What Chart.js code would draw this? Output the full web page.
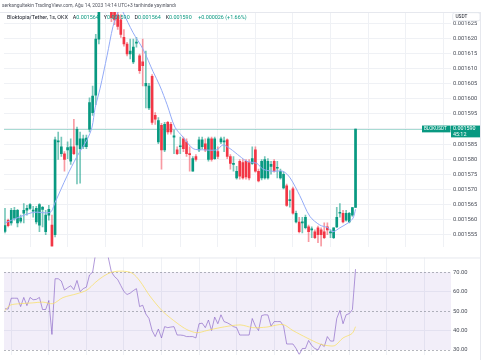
<!DOCTYPE html>
<html><head><meta charset="utf-8">
<script src="https://cdn.jsdelivr.net/npm/chart.js@4.4.0/dist/chart.umd.min.js"></script>
<style>
html,body{margin:0;padding:0;background:#fff;width:485px;height:360px;overflow:hidden;font-family:Roboto,"Liberation Sans",sans-serif;}
#wrap{position:relative;width:485px;height:360px;}
#main{position:absolute;left:0;top:0;}
#rsi{position:absolute;left:0;top:252px;}
.txt{position:absolute;white-space:nowrap;transform-origin:0 0;}
#hdr{left:2px;top:3px;font-size:10px;transform:scale(0.49);color:#50535e;}
#leg{left:7px;top:14px;font-size:10px;transform:scale(0.54);color:#131722;}
#leg .g{color:#089981;}
#leg .k{margin-left:9px;}
#leg .c{margin-left:12px;color:#089981;}
#frameR{position:absolute;left:480px;top:12px;width:1px;height:348px;background:#e6e8ee;}
</style></head><body>
<div id="wrap">
<canvas id="main" width="485" height="252" style="width:485px;height:252px"></canvas>
<canvas id="rsi" width="485" height="108" style="width:485px;height:108px"></canvas>
<div id="frameR"></div>
<div id="hdr" class="txt"></div>
<div id="leg" class="txt"></div>
</div>
<script>
// ---------- data ----------
const headerText = 'serkangultekin TradingView.com, Ağu 14, 2023 14:14 UTC+3 tarihinde yayınlandı';
const symbolText = 'Bloktopia/Tether, 1s, OKX';
const symbolShort = 'BLOKUSDT';
const currencyText = 'USDT';
const countdownText = '45:12';

const open = [
1556.1e-6,1559.8e-6,1558.9e-6,1560.5e-6,1558.9e-6,1559.5e-6,1562.1e-6,1563.1e-6,1563.7e-6,1562.8e-6,
1559.2e-6,1558.2e-6,1563.4e-6,1556.0e-6,1561.5e-6,1558.2e-6,1555.0e-6,1585.7e-6,1581.8e-6,1581.8e-6,
1583.1e-6,1579.3e-6,1584.1e-6,1584.7e-6,1583.5e-6,1584.1e-6,1584.1e-6,1589.9e-6,1595.4e-6,1601.2e-6,
1619.7e-6,1632.6e-6,1639.1e-6,1640.7e-6,1635.8e-6,1629.4e-6,1627.8e-6,1626.1e-6,1620.3e-6,1618.1e-6,
1614.8e-6,1612.2e-6,1618.4e-6,1614.2e-6,1612.2e-6,1604.2e-6,1597.0e-6,1607.4e-6,1594.5e-6,1585.7e-6,
1591.2e-6,1583.1e-6,1592.2e-6,1591.5e-6,1587.3e-6,1583.1e-6,1584.1e-6,1586.7e-6,1585.7e-6,1581.8e-6,
1576.0e-6,1580.9e-6,1583.1e-6,1584.1e-6,1585.1e-6,1579.9e-6,1586.7e-6,1580.2e-6,1582.5e-6,1585.7e-6,
1585.7e-6,1586.4e-6,1580.9e-6,1578.3e-6,1573.8e-6,1579.3e-6,1578.9e-6,1579.3e-6,1578.9e-6,1578.6e-6,
1583.1e-6,1576.0e-6,1573.8e-6,1573.8e-6,1573.8e-6,1577.6e-6,1579.3e-6,1577.0e-6,1573.8e-6,1570.5e-6,
1571.2e-6,1566.3e-6,1570.2e-6,1559.2e-6,1559.2e-6,1558.9e-6,1557.3e-6,1557.6e-6,1556.6e-6,1556.0e-6,
1557.3e-6,1556.6e-6,1556.0e-6,1557.6e-6,1555.6e-6,1554.0e-6,1557.6e-6,1562.1e-6,1562.1e-6,1559.8e-6,
1559.2e-6,1561.5e-6,1564.0e-6];
const high = [
1563.7e-6,1560.2e-6,1563.7e-6,1564.1e-6,1563.4e-6,1561.5e-6,1565.3e-6,1564.7e-6,1565.3e-6,1564.4e-6,
1564.4e-6,1565.3e-6,1564.4e-6,1563.1e-6,1564.7e-6,1561.5e-6,1587.3e-6,1589.0e-6,1587.3e-6,1582.5e-6,
1585.7e-6,1586.7e-6,1593.2e-6,1590.6e-6,1589.0e-6,1588.0e-6,1588.0e-6,1600.3e-6,1604.2e-6,1621.3e-6,
1635.8e-6,1642.3e-6,1643.9e-6,1643.9e-6,1637.5e-6,1631.0e-6,1629.4e-6,1627.8e-6,1622.9e-6,1618.7e-6,
1619.7e-6,1619.7e-6,1620.3e-6,1614.8e-6,1619.7e-6,1615.8e-6,1605.1e-6,1608.0e-6,1595.4e-6,1593.8e-6,
1591.9e-6,1592.2e-6,1592.5e-6,1592.2e-6,1589.6e-6,1584.1e-6,1587.3e-6,1587.3e-6,1586.7e-6,1584.1e-6,
1580.9e-6,1581.5e-6,1587.3e-6,1587.3e-6,1586.7e-6,1587.3e-6,1587.3e-6,1587.3e-6,1584.1e-6,1587.3e-6,
1587.3e-6,1586.7e-6,1581.5e-6,1580.9e-6,1577.6e-6,1579.9e-6,1579.9e-6,1579.9e-6,1579.9e-6,1584.1e-6,
1584.1e-6,1576.7e-6,1579.9e-6,1580.9e-6,1580.2e-6,1579.3e-6,1579.9e-6,1579.3e-6,1576.7e-6,1575.7e-6,
1571.8e-6,1569.6e-6,1570.8e-6,1562.8e-6,1560.8e-6,1560.8e-6,1561.5e-6,1558.2e-6,1557.6e-6,1556.6e-6,
1557.9e-6,1557.3e-6,1558.9e-6,1558.9e-6,1556.6e-6,1557.3e-6,1564.1e-6,1565.3e-6,1563.1e-6,1563.1e-6,
1562.4e-6,1564.1e-6,1590.0e-6];
const low = [
1555.6e-6,1557.6e-6,1558.2e-6,1559.8e-6,1557.6e-6,1558.9e-6,1558.9e-6,1561.5e-6,1563.4e-6,1560.8e-6,
1558.6e-6,1556.0e-6,1557.6e-6,1555.0e-6,1559.8e-6,1551.1e-6,1554.3e-6,1579.9e-6,1580.9e-6,1576.0e-6,
1580.2e-6,1578.3e-6,1581.5e-6,1571.8e-6,1572.1e-6,1583.5e-6,1583.5e-6,1589.0e-6,1594.5e-6,1598.0e-6,
1618.1e-6,1631.0e-6,1635.8e-6,1634.2e-6,1625.5e-6,1624.5e-6,1622.9e-6,1620.3e-6,1617.4e-6,1614.2e-6,
1613.2e-6,1611.6e-6,1617.1e-6,1608.4e-6,1604.2e-6,1597.0e-6,1596.4e-6,1591.5e-6,1591.5e-6,1585.1e-6,
1576.7e-6,1582.5e-6,1588.3e-6,1588.3e-6,1581.8e-6,1581.5e-6,1581.8e-6,1582.5e-6,1580.9e-6,1576.0e-6,
1576.0e-6,1579.3e-6,1582.5e-6,1583.5e-6,1582.5e-6,1579.3e-6,1579.3e-6,1579.9e-6,1580.2e-6,1585.1e-6,
1582.5e-6,1580.2e-6,1576.7e-6,1576.0e-6,1573.4e-6,1573.4e-6,1573.4e-6,1573.4e-6,1573.1e-6,1578.3e-6,
1575.7e-6,1572.5e-6,1573.1e-6,1573.4e-6,1573.4e-6,1575.0e-6,1575.7e-6,1573.8e-6,1573.4e-6,1570.2e-6,
1564.4e-6,1564.1e-6,1561.8e-6,1558.9e-6,1555.6e-6,1555.6e-6,1556.9e-6,1552.7e-6,1554.0e-6,1553.7e-6,
1552.4e-6,1551.1e-6,1553.7e-6,1555.0e-6,1554.0e-6,1553.7e-6,1557.3e-6,1560.8e-6,1558.9e-6,1559.5e-6,
1558.9e-6,1561.1e-6,1564.0e-6];
const close = [
1558.0e-6,1558.0e-6,1563.1e-6,1563.1e-6,1563.1e-6,1560.5e-6,1563.1e-6,1563.7e-6,1565.0e-6,1563.1e-6,
1563.7e-6,1565.0e-6,1564.1e-6,1561.5e-6,1563.4e-6,1551.1e-6,1586.4e-6,1586.0e-6,1584.1e-6,1579.9e-6,
1583.8e-6,1584.1e-6,1581.8e-6,1589.9e-6,1586.7e-6,1586.7e-6,1587.0e-6,1598.7e-6,1600.9e-6,1619.7e-6,
1632.6e-6,1639.1e-6,1640.7e-6,1635.8e-6,1626.8e-6,1626.1e-6,1623.9e-6,1621.3e-6,1618.1e-6,1614.8e-6,
1615.8e-6,1617.1e-6,1618.7e-6,1609.3e-6,1610.9e-6,1605.1e-6,1604.2e-6,1592.2e-6,1593.2e-6,1592.8e-6,
1583.1e-6,1591.5e-6,1589.0e-6,1589.0e-6,1587.7e-6,1581.8e-6,1584.4e-6,1583.5e-6,1581.8e-6,1581.5e-6,
1580.2e-6,1579.9e-6,1586.4e-6,1586.4e-6,1583.1e-6,1586.7e-6,1579.9e-6,1586.7e-6,1580.9e-6,1586.7e-6,
1586.0e-6,1580.9e-6,1578.6e-6,1578.6e-6,1576.0e-6,1574.4e-6,1573.8e-6,1574.1e-6,1573.8e-6,1580.2e-6,
1576.0e-6,1572.8e-6,1579.3e-6,1579.9e-6,1579.3e-6,1578.3e-6,1576.0e-6,1577.3e-6,1576.0e-6,1575.0e-6,
1564.7e-6,1566.6e-6,1562.1e-6,1562.1e-6,1556.0e-6,1559.2e-6,1560.8e-6,1556.0e-6,1556.9e-6,1554.0e-6,
1555.0e-6,1555.0e-6,1554.0e-6,1556.6e-6,1556.0e-6,1557.3e-6,1560.8e-6,1562.4e-6,1559.2e-6,1562.1e-6,
1562.1e-6,1564.0e-6,1590.0e-6];

// moving average on price (positions in candle index)
const maIdx = [0,8.9,14.4,16,19.8,23,26.2,27.8,28.8,30.4,32.6,34.5,36.1,36.9,37.7,40.9,44.1,47.3,49.5,51.8,54.3,56.9,60.1,63.3,67.7,69.6,71.9,75.1,77.3,80.5,82.4,85.6,88.8,91.1,94.2,97.4,100.6,103.2,104.8,107,109.6,111.2,112];
const maVal = [1558.9e-6,1562.4e-6,1562.4e-6,1565.7e-6,1574.4e-6,1580.9e-6,1586.4e-6,1590.6e-6,1597.0e-6,1603.5e-6,1614.2e-6,1623.9e-6,1628.7e-6,1631.0e-6,1628.7e-6,1621.9e-6,1616.4e-6,1609.0e-6,1604.2e-6,1598.0e-6,1590.6e-6,1587.3e-6,1583.5e-6,1583.1e-6,1583.1e-6,1584.7e-6,1583.5e-6,1580.9e-6,1579.3e-6,1578.6e-6,1576.7e-6,1576.0e-6,1576.0e-6,1573.8e-6,1567.9e-6,1561.1e-6,1558.2e-6,1557.3e-6,1556.0e-6,1557.3e-6,1558.9e-6,1560.5e-6,1563.4e-6];

// RSI, one value per candle
const rsiVal = [
51.2,51,56.6,56.6,56.6,52.3,57,52.8,57,55.8,
56,57,50.8,50.8,55.4,38,66.6,66.6,65.4,60.8,
62,63,61,65.7,60,61.5,62.3,68.5,70,80,
86,88,86,77.5,70,67.7,66.2,63.1,60,58.5,
59.2,60.5,61.5,52.3,53,48.5,46.2,40,36.9,40.8,
36.2,42,41.5,41.8,42,37.7,37.7,37.5,36.9,36.9,
36.9,36.2,43.5,43.8,41.5,45.4,40,46.9,43.5,48.1,
44.6,44,43.1,42,41.5,37.7,37.7,37.7,37.7,46.2,
42.3,40,47.7,48.1,48,42.3,44.6,44.6,44.6,42.3,
33.1,33.1,33.1,30.8,27.7,30.8,30.8,34.9,32.3,30.8,
30,33.1,31.8,36.9,34.6,34.6,46.2,50.3,43.5,48.1,
48.7,50.8,71.5];
// RSI-based moving average
const rsiMaIdx = [0,1.6,4.8,8.9,12.1,15.3,18.5,23,26.2,28.8,31.3,34.2,37.4,40.6,43.1,46.3,50.5,55,58.1,61.3,64.5,68.7,75.1,79.2,83.7,88.8,92,96.5,100.6,102.9,105.4,108,110.9,112];
const rsiMaVal = [50.3,53,53.8,54.2,54.6,53.8,56.9,58.9,60.8,64.6,67.7,70,70.5,69.5,65.4,57.7,49.7,43.8,40.5,38.9,40,41.5,42.9,41.5,41.8,43.1,40,36.2,33.1,32.3,32.3,36.2,38.5,42];

const priceTicks = [0.001555,0.001560,0.001565,0.001570,0.001575,0.001580,0.001585,0.001590,0.001595,0.001600,0.001605,0.001610,0.001615,0.001620,0.001625];
const rsiTicks = [30,40,50,60,70];
const rsiLevels = [30,50,70];
const rsiBand = [30,70];
const gridIdx = [2,14,26,38,50,62,74,86,98,110,122,134];
const xRange = [-0.32, 142.5];
const priceRange = [0.0015511, 0.0016287];
const rsiRange = [27.7, 77.5];

// ---------- styling ----------
const GREEN = '#089981', RED = '#f23645';
const GRID = '#eff1f5';
const FONT = 'Roboto, "Liberation Sans", sans-serif';
const TICKC = '#4a4e59';

// ---------- header / legend text ----------
const n = close.length;
const fmt = v => v.toFixed(6);
document.getElementById('hdr').textContent = headerText;
const chg = close[n-1] - close[n-2];
const pct = chg / close[n-2] * 100;
const leg = document.getElementById('leg');
leg.innerHTML = '';
const addSpan = (t, cls) => { const s = document.createElement('span'); s.textContent = t; if (cls) s.className = cls; leg.appendChild(s); };
addSpan(symbolText);
[['A', open[n-1]], ['Y', high[n-1]], ['D', low[n-1]], ['K', close[n-1]]].forEach(([k, v]) => {
  addSpan(k, 'k'); addSpan(fmt(v), 'g');
});
addSpan((chg >= 0 ? '+' : '') + fmt(chg) + ' (' + (pct >= 0 ? '+' : '') + pct.toFixed(2) + '%)', 'c');

// ---------- candles ----------
const idx = open.map((_, i) => i);
const up = idx.map(i => close[i] >= open[i]);
const wickData = idx.map(i => ({x: i, y: [low[i], high[i]]}));
const bodyData = idx.map(i => ({x: i, y: [open[i], close[i]]}));

const mainDeco = {
  id: 'mainDeco',
  beforeDatasetsDraw(chart) {
    const {ctx, chartArea: a, scales: {y}} = chart;
    const py = Math.round(y.getPixelForValue(close[n-1])) + 0.5;
    ctx.save();
    ctx.lineWidth = 1;
    ctx.strokeStyle = 'rgba(8,153,129,0.35)';
    ctx.beginPath(); ctx.moveTo(a.left, py); ctx.lineTo(a.right, py); ctx.stroke();
    ctx.strokeStyle = '#e6e8ee';
    ctx.beginPath(); ctx.moveTo(0, a.top + 0.5); ctx.lineTo(chart.width - 5, a.top + 0.5); ctx.stroke();
    ctx.restore();
  },
  afterDraw(chart) {
    const {ctx, chartArea: a, scales: {y}} = chart;
    const py = y.getPixelForValue(close[n-1]);
    ctx.save();
    // symbol tag
    ctx.fillStyle = GREEN;
    ctx.fillRect(a.right - 29, py - 3.4, 28.5, 6.8);
    ctx.fillRect(a.right, py - 3.4, 29, 11.8);
    ctx.fillStyle = '#ffffff';
    ctx.font = '4.6px ' + FONT;
    ctx.textBaseline = 'middle';
    ctx.textAlign = 'left';
    ctx.fillText(symbolShort, a.right - 27, py);
    ctx.font = '5.4px ' + FONT;
    ctx.fillText(fmt(close[n-1]), a.right + 2, py);
    ctx.fillText(countdownText, a.right + 2, py + 5.4);
    // currency box
    ctx.fillStyle = '#ffffff';
    ctx.strokeStyle = '#e0e3eb';
    ctx.lineWidth = 0.8;
    ctx.beginPath();
    if (ctx.roundRect) ctx.roundRect(a.right + 1.7, a.top + 0.7, 27.3, 8.2, 2); else ctx.rect(a.right + 1.7, a.top + 0.7, 27.3, 8.2);
    ctx.fill(); ctx.stroke();
    ctx.fillStyle = '#131722';
    ctx.font = '4.8px ' + FONT;
    ctx.fillText(currencyText, a.right + 4.5, a.top + 4.9);
    ctx.restore();
  }
};

const xScaleCfg = {
  type: 'linear', min: xRange[0], max: xRange[1], offset: false,
  afterBuildTicks: s => { s.ticks = gridIdx.map(v => ({value: v})); },
  ticks: {display: false},
  grid: {color: GRID, drawTicks: false},
  border: {display: false},
  afterFit: s => { s.height = 0; }
};

new Chart(document.getElementById('main'), {
  type: 'bar',
  data: {datasets: [
    {type: 'line', data: maIdx.map((x, k) => ({x, y: maVal[k]})), borderColor: '#93abf7', borderWidth: 1, pointRadius: 0, tension: 0.3, order: 0, clip: 0},
    {data: bodyData, backgroundColor: up.map(u => u ? GREEN : RED), barThickness: 2, minBarLength: 1, grouped: false, order: 1, clip: 0},
    {data: wickData, backgroundColor: up.map(u => u ? 'rgba(8,153,129,0.55)' : 'rgba(242,54,69,0.5)'), barThickness: 1, grouped: false, order: 2, clip: 0}
  ]},
  options: {
    responsive: false, animation: false, devicePixelRatio: 1,
    layout: {padding: {left: 4, top: 12, right: 0, bottom: 0}},
    plugins: {legend: {display: false}, tooltip: {enabled: false}},
    scales: {
      x: xScaleCfg,
      y: {
        position: 'right', min: priceRange[0], max: priceRange[1],
        afterBuildTicks: s => { s.ticks = priceTicks.map(v => ({value: v})); },
        ticks: {padding: 2, color: TICKC, font: {family: FONT, size: 5.8}, callback: v => v.toFixed(6), autoSkip: false},
        grid: {color: GRID, drawTicks: false},
        border: {display: false},
        afterFit: s => { s.width = 34; }
      }
    }
  },
  plugins: [mainDeco]
});

// ---------- RSI pane ----------
const rsiDeco = {
  id: 'rsiDeco',
  beforeDatasetsDraw(chart) {
    const {ctx, chartArea: a, scales: {y}} = chart;
    ctx.save();
    const yt = y.getPixelForValue(rsiBand[1]), yb = y.getPixelForValue(rsiBand[0]);
    ctx.fillStyle = 'rgba(126,87,194,0.1)';
    ctx.fillRect(a.left, yt, a.right - a.left, yb - yt);
    ctx.strokeStyle = 'rgba(120,123,134,0.55)';
    ctx.lineWidth = 1;
    ctx.setLineDash([2, 2]);
    rsiLevels.forEach(v => {
      const py = Math.round(y.getPixelForValue(v)) + 0.5;
      ctx.beginPath(); ctx.moveTo(a.left, py); ctx.lineTo(a.right, py); ctx.stroke();
    });
    ctx.setLineDash([]);
    ctx.strokeStyle = '#e6e8ee';
    ctx.beginPath(); ctx.moveTo(0, a.top + 0.5); ctx.lineTo(chart.width - 5, a.top + 0.5); ctx.stroke();
    ctx.restore();
  }
};

new Chart(document.getElementById('rsi'), {
  type: 'line',
  data: {datasets: [
    {data: rsiMaIdx.map((x, k) => ({x, y: rsiMaVal[k]})), borderColor: 'rgba(250,222,90,0.7)', borderWidth: 1, pointRadius: 0, tension: 0.3, clip: 0},
    {data: rsiVal.map((v, i) => ({x: i, y: v})), borderColor: 'rgba(126,87,194,0.6)', borderWidth: 1, pointRadius: 0, tension: 0, clip: 0}
  ]},
  options: {
    responsive: false, animation: false, devicePixelRatio: 1,
    layout: {padding: {left: 4, top: 0, right: 0, bottom: 0}},
    plugins: {legend: {display: false}, tooltip: {enabled: false}},
    scales: {
      x: Object.assign({}, xScaleCfg),
      y: {
        position: 'right', min: rsiRange[0], max: rsiRange[1],
        afterBuildTicks: s => { s.ticks = rsiTicks.map(v => ({value: v})); },
        ticks: {padding: 2, color: TICKC, font: {family: FONT, size: 5.8}, callback: v => v.toFixed(2), autoSkip: false},
        grid: {color: c => rsiLevels.includes(c.tick && c.tick.value) ? 'rgba(0,0,0,0)' : GRID, drawTicks: false},
        border: {display: false},
        afterFit: s => { s.width = 34; }
      }
    }
  },
  plugins: [rsiDeco]
});
</script>
</body></html>
